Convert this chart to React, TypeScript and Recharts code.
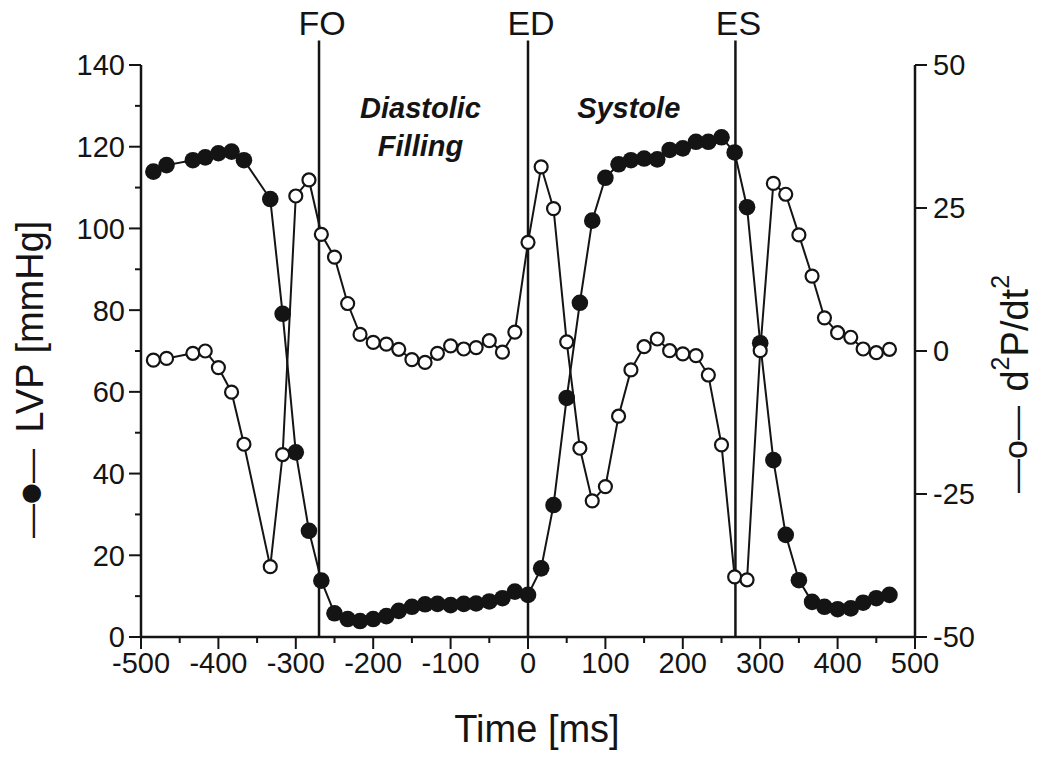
import React from 'react';
import { ComposedChart, Line, XAxis, YAxis, ReferenceLine, ReferenceArea } from 'recharts';

const FONT = '"Liberation Sans", Arial, Helvetica, sans-serif';
const INK = '#141414';

// sample times [ms], relative to end-diastole
const timeMs = [
  -484, -467, -433, -417, -400, -383, -367, -333, -317, -300, -283, -267, -250, -233,
  -217, -200, -183, -167, -150, -133, -117, -100, -83, -67, -50, -33, -17, 0,
  17, 33, 50, 67, 83, 100, 117, 133, 150, 167, 183, 200, 217, 233, 250, 267,
  283, 300, 317, 333, 350, 367, 383, 400, 417, 433, 450, 467,
];

// left ventricular pressure [mmHg]
const lvp = [
  113.9, 115.5, 116.7, 117.4, 118.4, 118.8, 116.7, 107.2, 79.1, 45.2, 26.0, 13.8, 5.8, 4.4,
  3.9, 4.4, 5.1, 6.4, 7.4, 8.0, 8.1, 7.8, 8.1, 8.2, 8.7, 9.5, 11.1, 10.3,
  16.8, 32.3, 58.5, 81.8, 101.9, 112.4, 115.7, 116.7, 117.1, 116.9, 119.2, 119.6, 121.2, 121.2, 122.3, 118.6,
  105.2, 71.9, 43.3, 25.0, 13.9, 8.6, 7.4, 6.8, 7.0, 8.4, 9.5, 10.3,
];

// second derivative d2P/dt2
const d2p = [
  -1.6, -1.3, -0.4, 0.0, -2.9, -7.2, -16.3, -37.7, -18.1, 27.1, 29.9, 20.4, 16.4, 8.3,
  2.9, 1.5, 1.2, 0.3, -1.5, -2.0, -0.4, 0.9, 0.35, 0.6, 1.8, -0.2, 3.3, 19.0,
  32.2, 24.9, 1.6, -17.0, -26.2, -23.7, -11.4, -3.3, 0.75, 2.1, 0.05, -0.5, -0.8, -4.2, -16.4, -39.5,
  -40.0, 0.05, 29.3, 27.4, 20.3, 13.1, 5.8, 3.2, 2.4, 0.35, -0.3, 0.3,
];

const xTicks = [
  -500, -450, -400, -350, -300, -250, -200, -150, -100, -50, 0,
  50, 100, 150, 200, 250, 300, 350, 400, 450, 500,
];
const lvpTicks = [0, 10, 20, 30, 40, 50, 60, 70, 80, 90, 100, 110, 120, 130, 140];
const d2pTicks = [-50, -25, 0, 25, 50];

const eventNames = ['FO', 'ED', 'ES'];
const eventTimes = [-270, 0, 268];

const phaseLines = [['Diastolic', 'Filling'], ['Systole']];
const phaseFrom = [-270, 0];
const phaseTo = [0, 268];

const data = timeMs.map((t, i) => ({ t, lvp: lvp[i], d2p: d2p[i] }));

const tickText = { fontSize: 29, fontFamily: FONT, fill: INK };

const BottomTick = (props: any) => {
  const { x, y, payload } = props;
  const major = payload.value % 100 === 0;
  return (
    <g>
      <line x1={x} y1={y} x2={x} y2={y + (major ? 12 : 6)} stroke={INK} strokeWidth={2} />
      {major && (
        <text x={x} y={y + 36} textAnchor="middle" {...tickText}>
          {payload.value}
        </text>
      )}
    </g>
  );
};

const TopTick = (props: any) => {
  const { x, y, payload } = props;
  const major = payload.value % 100 === 0;
  return <line x1={x} y1={y} x2={x} y2={y + (major ? 12 : 6)} stroke={INK} strokeWidth={2} />;
};

const LeftTick = (props: any) => {
  const { x, y, payload } = props;
  const major = payload.value % 20 === 0;
  return (
    <g>
      <line x1={x - (major ? 12 : 6)} y1={y} x2={x} y2={y} stroke={INK} strokeWidth={2} />
      {major && (
        <text x={x - 16} y={y} dy="0.36em" textAnchor="end" {...tickText}>
          {payload.value}
        </text>
      )}
    </g>
  );
};

const RightTick = (props: any) => {
  const { x, y, payload } = props;
  return (
    <g>
      <line x1={x} y1={y} x2={x + 12} y2={y} stroke={INK} strokeWidth={2} />
      <text x={x + 18} y={y} dy="0.36em" textAnchor="start" {...tickText}>
        {payload.value}
      </text>
    </g>
  );
};

const titleText = { fontSize: 38, fontFamily: FONT, fill: INK };

const TimeTitle = () => (
  <text x={537} y={742} textAnchor="middle" {...titleText}>
    Time [ms]
  </text>
);

// titles read bottom-to-top, anchored at their lower end
const LvpTitle = () => (
  <text transform="translate(30, 538) rotate(-90)" textAnchor="start" dominantBaseline="central" {...titleText}>
    <tspan fontSize={34}>—</tspan>
    <tspan fontSize={24} fontFamily='"DejaVu Sans", sans-serif'>●</tspan>
    <tspan fontSize={34}>—</tspan>
    <tspan dx={6}> LVP [mmHg]</tspan>
  </text>
);

const D2pTitle = () => (
  <text transform="translate(1015, 493) rotate(-90)" textAnchor="start" dominantBaseline="central" {...titleText}>
    <tspan fontSize={34}>—o—</tspan>
    <tspan dx={4}> d</tspan>
    <tspan fontSize={25} dy={-15}>2</tspan>
    <tspan dy={15}>P/dt</tspan>
    <tspan fontSize={25} dy={-15}>2</tspan>
  </text>
);

const phaseLabel = (lines: string[]) => (props: any) => {
  const vb = props.viewBox || { x: 0, y: 0, width: 0 };
  const cx = vb.x + vb.width / 2 - 3;
  return (
    <text
      x={cx}
      y={vb.y + 53}
      textAnchor="middle"
      fontSize={29}
      fontWeight="bold"
      fontStyle="italic"
      fontFamily={FONT}
      fill={INK}
    >
      {lines.map((l, i) => (
        <tspan key={l} x={cx} dy={i === 0 ? 0 : 38}>
          {l}
        </tspan>
      ))}
    </text>
  );
};

export default function App() {
  const axisLine = { stroke: INK, strokeWidth: 2.5 };
  return (
    <div style={{ position: 'absolute', left: 0, top: 0, width: 1050, height: 757, background: '#fff' }}>
      <ComposedChart width={1050} height={757} data={data} margin={{ top: 65, right: 65, bottom: 0, left: 71 }}>
        <XAxis
          xAxisId="top"
          orientation="top"
          dataKey="t"
          type="number"
          domain={[-500, 500]}
          ticks={xTicks}
          interval={0}
          height={0}
          tickSize={0}
          tickMargin={0}
          tickLine={false}
          tick={TopTick}
          axisLine={axisLine}
        />
        <XAxis
          xAxisId="main"
          dataKey="t"
          type="number"
          domain={[-500, 500]}
          ticks={xTicks}
          interval={0}
          height={120}
          tickSize={0}
          tickMargin={0}
          tickLine={false}
          tick={BottomTick}
          axisLine={axisLine}
          label={{ content: TimeTitle }}
        />
        <YAxis
          yAxisId="lvp"
          orientation="left"
          domain={[0, 140]}
          ticks={lvpTicks}
          interval={0}
          width={70}
          tickSize={0}
          tickMargin={0}
          tickLine={false}
          tick={LeftTick}
          axisLine={axisLine}
          label={{ content: LvpTitle }}
        />
        <YAxis
          yAxisId="d2p"
          orientation="right"
          domain={[-50, 50]}
          ticks={d2pTicks}
          interval={0}
          width={70}
          tickSize={0}
          tickMargin={0}
          tickLine={false}
          tick={RightTick}
          axisLine={axisLine}
          label={{ content: D2pTitle }}
        />
        {phaseLines.map((lines, i) => (
          <ReferenceArea
            key={lines[0]}
            xAxisId="main"
            yAxisId="lvp"
            x1={phaseFrom[i]}
            x2={phaseTo[i]}
            fill="none"
            stroke="none"
            label={{ content: phaseLabel(lines) }}
          />
        ))}
        {eventNames.map((name, i) => (
          <ReferenceLine
            key={name}
            xAxisId="main"
            yAxisId="lvp"
            segment={[
              { x: eventTimes[i], y: 0 },
              { x: eventTimes[i], y: 146 },
            ]}
            ifOverflow="visible"
            stroke={INK}
            strokeWidth={2.5}
            label={{ value: name, position: 'top', offset: 5, dx: 3, fill: INK, fontSize: 34, fontFamily: FONT }}
          />
        ))}
        <Line
          xAxisId="main"
          yAxisId="lvp"
          dataKey="lvp"
          type="linear"
          stroke={INK}
          strokeWidth={2}
          dot={{ r: 8.3, fill: INK, stroke: INK, strokeWidth: 0 }}
          activeDot={false}
          isAnimationActive={false}
        />
        <Line
          xAxisId="main"
          yAxisId="d2p"
          dataKey="d2p"
          type="linear"
          stroke={INK}
          strokeWidth={2}
          dot={{ r: 6.5, fill: '#fff', stroke: INK, strokeWidth: 2.2 }}
          activeDot={false}
          isAnimationActive={false}
        />
      </ComposedChart>
    </div>
  );
}
